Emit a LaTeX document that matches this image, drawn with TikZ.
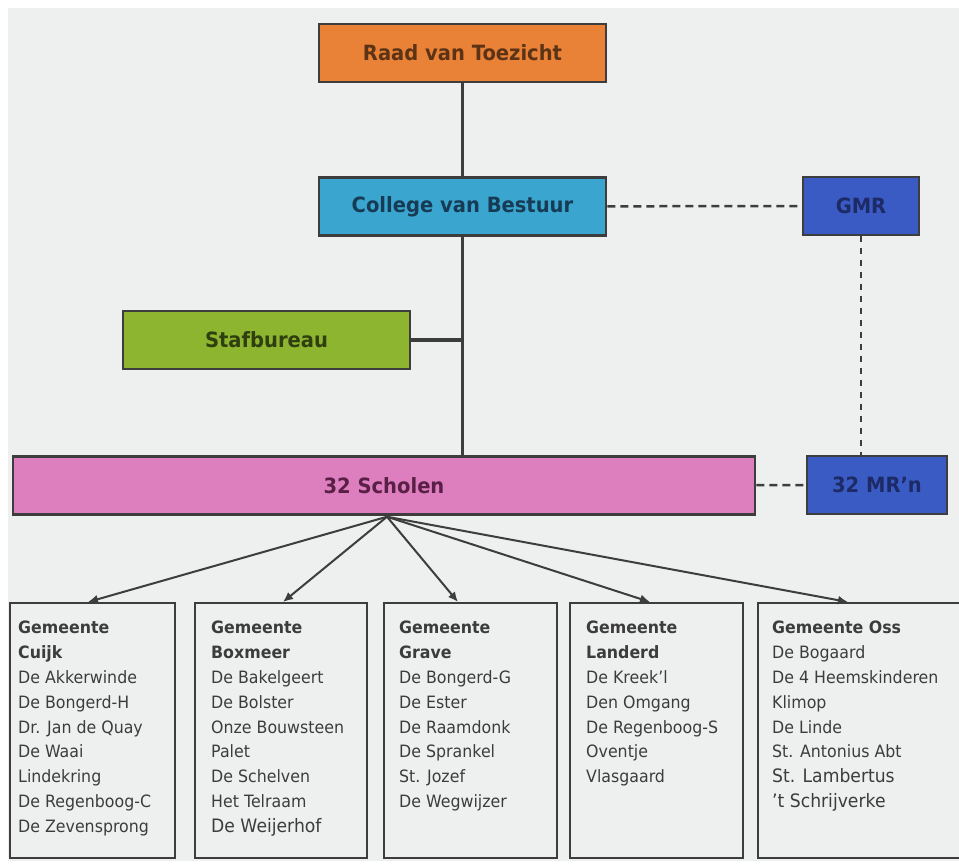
\documentclass[tikz,border=0pt]{standalone}
\usepackage{fontspec}
\setmainfont{DejaVu Sans}[FakeStretch=0.93]
\usetikzlibrary{arrows.meta,calc}
\definecolor{paper}{RGB}{238,240,240}
\definecolor{edgegrey}{RGB}{61,61,61}
\definecolor{listgrey}{RGB}{60,60,60}
\definecolor{raadorange}{RGB}{233,129,55}
\definecolor{raadtext}{RGB}{92,52,21}
\definecolor{cvbblue}{RGB}{58,166,207}
\definecolor{cvbtext}{RGB}{23,58,85}
\definecolor{mrblue}{RGB}{59,91,196}
\definecolor{mrtext}{RGB}{28,42,102}
\definecolor{stafgreen}{RGB}{141,181,47}
\definecolor{staftext}{RGB}{47,63,15}
\definecolor{scholenpink}{RGB}{221,127,191}
\definecolor{scholentext}{RGB}{90,31,70}
\tikzset{
	unit/.style={draw=edgegrey, line width=2.5pt, minimum height=58pt, inner sep=0pt, font=\fontsize{21}{25}\selectfont\bfseries},
	gembox/.style={draw=edgegrey, line width=2pt, fill=paper, anchor=north west, minimum height=255pt},
	gemtext/.style={anchor=north west, align=left, inner sep=0pt, text=listgrey, font=\fontsize{17}{24.8}\selectfont},
	stem/.style={draw=edgegrey, line width=3.5pt},
	link/.style={draw=edgegrey, line width=2.5pt, dash pattern=on 8pt off 5pt},
	thinlink/.style={draw=edgegrey, line width=1.5pt, dash pattern=on 6pt off 6pt},
	fork/.style={draw=edgegrey, line width=2pt, -{Latex[length=10pt,width=9pt]}},
	bigger/.style={font=\fontsize{18.5}{27}\selectfont}
}
\begin{document}
\begin{tikzpicture}[x=1pt, y=-1pt]
		\clip (0,0) rectangle (959,866);
		\fill[white] (0,0) rectangle (959,866);
		\fill[paper] (8,8) rectangle (959,861);

		\node[unit, fill=raadorange, text=raadtext, minimum width=287pt] (raad) at (462.5,53) {Raad van Toezicht};
		\node[unit, fill=cvbblue, text=cvbtext, minimum width=287pt] (cvb) at (462.5,206.5) {College van Bestuur};
		\node[unit, fill=mrblue, text=mrtext, minimum width=116pt] (gmr) at (861,206) {GMR};
		\node[unit, fill=stafgreen, text=staftext, minimum width=287pt] (staf) at (266.5,340) {Stafbureau};
		\node[unit, fill=scholenpink, text=scholentext, minimum width=742pt] (scholen) at (384,485.5) {32 Scholen};
		\node[unit, fill=mrblue, text=mrtext, minimum width=140pt] (mrn) at (877,485) {32 MR'n};

		\draw[stem] (raad) -- (cvb);
		\draw[stem] (cvb) -- (cvb |- scholen.north);
		\draw[stem] (staf) -- (staf -| cvb);
		\draw[link] (cvb) -- (gmr);
		\draw[thinlink] (gmr.south) -- (gmr.south |- mrn.north);
		\draw[link] (scholen) -- (mrn);

		\node[gembox, minimum width=165pt] (cuijk) at (9,602) {};
		\node[gembox, minimum width=172pt] (boxmeer) at (194,602) {};
		\node[gembox, minimum width=173pt] (grave) at (383,602) {};
		\node[gembox, minimum width=173pt] (landerd) at (569,602) {};
		\node[gembox, minimum width=212pt] (oss) at (757,602) {};

		\node[gemtext] (cuijk list) at ($(cuijk.north west)+(9,19)$) {\textbf{Gemeente}\\\textbf{Cuijk}\\De Akkerwinde\\De Bongerd-H\\Dr. Jan de Quay\\De Waai\\Lindekring\\De Regenboog-C\\De Zevensprong};
		\node[gemtext] (boxmeer list) at ($(boxmeer.north west)+(17,19)$) {\textbf{Gemeente}\\\textbf{Boxmeer}\\De Bakelgeert\\De Bolster\\Onze Bouwsteen\\Palet\\De Schelven\\Het Telraam\\{\fontsize{18.5}{27}\selectfont De Weijerhof}};
		\node[gemtext] (grave list) at ($(grave.north west)+(16,19)$) {\textbf{Gemeente}\\\textbf{Grave}\\De Bongerd-G\\De Ester\\De Raamdonk\\De Sprankel\\St. Jozef\\De Wegwijzer};
		\node[gemtext] (landerd list) at ($(landerd.north west)+(17,19)$) {\textbf{Gemeente}\\\textbf{Landerd}\\De Kreek'l\\Den Omgang\\De Regenboog-S\\Oventje\\Vlasgaard};
		\node[gemtext] (oss list) at ($(oss.north west)+(15,19)$) {\textbf{Gemeente Oss}\\De Bogaard\\De 4 Heemskinderen\\Klimop\\De Linde\\St. Antonius Abt\\{\fontsize{18.5}{27}\selectfont St. Lambertus}\\{\fontsize{18.5}{27}\selectfont 't Schrijverke}};

		\coordinate (fan) at ($(scholen.south)+(3,1)$);
		\draw[fork] (fan) -- ($(cuijk.north west)+(79,0)$);
		\draw[fork] (fan) -- ($(boxmeer.north west)+(89,0)$);
		\draw[fork] (fan) -- ($(grave.north west)+(75,0)$);
		\draw[fork] (fan) -- ($(landerd.north west)+(81,0)$);
		\draw[fork] (fan) -- ($(oss.north west)+(91,0)$);
	\end{tikzpicture}
\end{document}
